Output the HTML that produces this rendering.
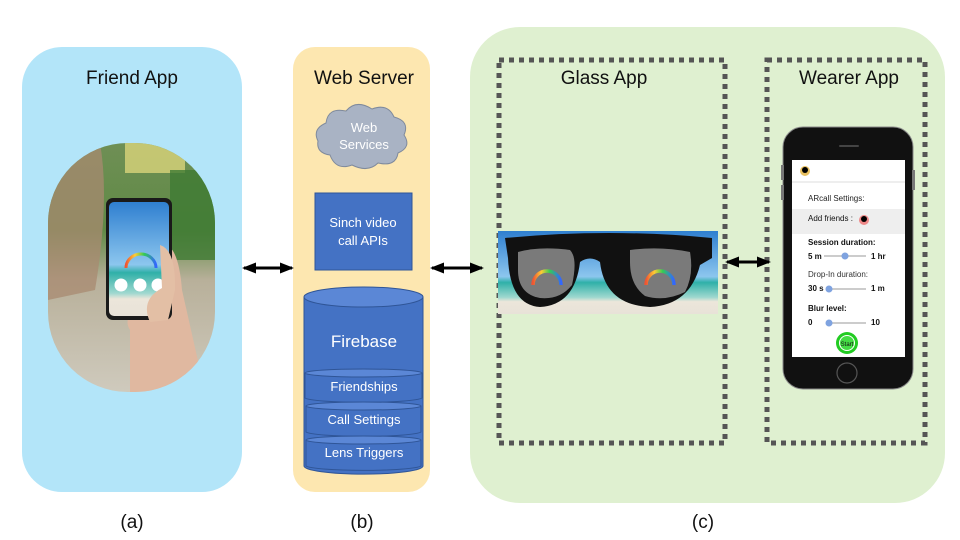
<!DOCTYPE html>
<html><head><meta charset="utf-8"><style>body{margin:0;background:#fff}svg{display:block}text{font-family:"Liberation Sans",sans-serif}</style></head><body>
<svg width="960" height="540" viewBox="0 0 960 540" xmlns="http://www.w3.org/2000/svg">
<defs>
<clipPath id="oval"><rect x="48" y="143" width="167" height="249" rx="80"/></clipPath>
<linearGradient id="ph" x1="0" y1="0" x2="0" y2="1"><stop offset="0" stop-color="#6f8f55"/><stop offset="0.35" stop-color="#5f8a45"/><stop offset="0.55" stop-color="#b8b09a"/><stop offset="1" stop-color="#cfcabd"/></linearGradient>
<linearGradient id="sky" x1="0" y1="0" x2="0" y2="1"><stop offset="0" stop-color="#2f7fd0"/><stop offset="0.55" stop-color="#8cc6ee"/><stop offset="0.62" stop-color="#2fb0a8"/><stop offset="0.8" stop-color="#9fd8cf"/><stop offset="0.85" stop-color="#ece6da"/><stop offset="1" stop-color="#e8e2d8"/></linearGradient>
<linearGradient id="rb" x1="0" y1="0" x2="1" y2="0"><stop offset="0" stop-color="#e53"/><stop offset="0.3" stop-color="#fc3"/><stop offset="0.6" stop-color="#3c5"/><stop offset="1" stop-color="#36f"/></linearGradient>
<marker id="ah" markerUnits="userSpaceOnUse" markerWidth="14" markerHeight="12" refX="12" refY="6" orient="auto-start-reverse"><path d="M0,0.5 L14,6 L0,11.5 z" fill="#000"/></marker>
</defs>
<!-- Friend App -->
<rect x="22" y="47" width="220" height="445" rx="40" fill="#b3e5f9"/>
<text x="132" y="84" font-size="19" text-anchor="middle" fill="#111">Friend App</text>
<g clip-path="url(#oval)">
<rect x="48" y="143" width="167" height="249" fill="url(#ph)"/>
<rect x="125" y="143" width="60" height="30" fill="#d9d47a" opacity="0.8"/>
<rect x="170" y="170" width="45" height="90" fill="#3e7a33" opacity="0.8"/>
<path d="M48,143 L100,143 Q110,200 95,290 L48,300 Z" fill="#a88a70" opacity="0.75"/>
<path d="M48,340 Q60,380 110,392 L48,392 Z" fill="#e8eef0" opacity="0.8"/>
<path d="M160,245 Q178,240 182,290 L205,392 L130,392 L130,330 Q120,315 150,295 Z" fill="#e0b8a0"/>
</g>
<rect x="106" y="198" width="66" height="122" rx="7" fill="#1a1a1a"/>
<rect x="109" y="202" width="60" height="114" rx="5" fill="url(#sky)"/>
<path d="M126,268 a15,14 0 0 1 30,0" fill="none" stroke="url(#rb)" stroke-width="3"/>
<circle cx="121" cy="285" r="6.5" fill="#fff"/><circle cx="140" cy="285" r="6.5" fill="#fff"/><circle cx="158" cy="285" r="6.5" fill="#fff"/>
<path d="M160,245 Q176,250 175,290 L168,320 L150,322 Q140,300 162,288 Z" fill="#e3bfa5"/>
<!-- Web server -->
<rect x="293" y="47" width="137" height="445" rx="22" fill="#fde7b0"/>
<text x="364" y="84" font-size="19" text-anchor="middle" fill="#111">Web Server</text>
<path d="M330,155 q-14,-2 -12,-14 q-6,-12 8,-18 q2,-16 20,-12 q10,-12 26,-2 q16,-6 22,8 q16,4 10,18 q8,12 -6,18 q-2,14 -20,10 q-10,10 -26,2 q-16,6 -22,-10z" fill="#a9b3c4" stroke="#7f8a9c" stroke-width="1"/>
<text x="364" y="132" font-size="13" text-anchor="middle" fill="#fff">Web</text>
<text x="364" y="149" font-size="13" text-anchor="middle" fill="#fff">Services</text>
<rect x="315" y="193" width="97" height="77" fill="#4472c4" stroke="#2f5597"/>
<text x="363" y="227" font-size="13" text-anchor="middle" fill="#fff">Sinch video</text>
<text x="363" y="245" font-size="13" text-anchor="middle" fill="#fff">call APIs</text>
<path d="M304,297 L304,466 A59,8 0 0 0 423,466 L423,297" fill="#4472c4" stroke="#2f5597"/>
<ellipse cx="363.5" cy="297" rx="59.5" ry="10" fill="#5b87d6" stroke="#2f5597"/>
<text x="364" y="347" font-size="17" text-anchor="middle" fill="#fff">Firebase</text>
<g stroke="#2f5597" fill="#4472c4">
<path d="M305,373 L305,398 A59,5 0 0 0 422,398 L422,373"/><ellipse cx="363.5" cy="373" rx="58.5" ry="4" fill="#5b87d6"/>
<path d="M306,406 L306,432 A58,5 0 0 0 421,432 L421,406"/><ellipse cx="363.5" cy="406" rx="57.5" ry="4" fill="#5b87d6"/>
<path d="M306,440 L306,466 A58,5 0 0 0 421,466 L421,440"/><ellipse cx="363.5" cy="440" rx="57.5" ry="4" fill="#5b87d6"/>
</g>
<text x="364" y="391" font-size="13" text-anchor="middle" fill="#fff">Friendships</text>
<text x="364" y="424" font-size="13" text-anchor="middle" fill="#fff">Call Settings</text>
<text x="364" y="457" font-size="13" text-anchor="middle" fill="#fff">Lens Triggers</text>
<!-- Green panel -->
<rect x="470" y="27" width="475" height="476" rx="50" fill="#dff0d0"/>
<rect x="499" y="60" width="226" height="383" fill="none" stroke="#555" stroke-width="5" stroke-dasharray="5,5"/>
<text x="604" y="84" font-size="19" text-anchor="middle" fill="#111">Glass App</text>
<rect x="498" y="231" width="220" height="83" fill="url(#sky)"/>
<path d="M505,238 Q610,228 712,238 L712,258 L700,265 Q690,305 650,307 Q605,305 600,262 Q590,255 580,262 Q575,305 540,307 Q510,305 508,258 Z" fill="#111"/>
<path d="M518,252 Q540,246 570,250 Q578,258 572,285 Q560,300 540,298 Q518,294 518,270Z" fill="#7a7a7a"/>
<path d="M630,250 Q660,246 690,252 Q694,275 685,292 Q665,302 645,296 Q630,285 630,262Z" fill="#7a7a7a"/>
<path d="M533,285 a14,14 0 0 1 28,0" fill="none" stroke="url(#rb)" stroke-width="3.5"/>
<path d="M646,285 a14,14 0 0 1 28,0" fill="none" stroke="url(#rb)" stroke-width="3.5"/>
<rect x="767" y="60" width="158" height="383" fill="none" stroke="#555" stroke-width="5" stroke-dasharray="5,5"/>
<text x="849" y="84" font-size="19" text-anchor="middle" fill="#111">Wearer App</text>
<!-- arrows -->
<line x1="244" y1="268" x2="292" y2="268" stroke="#000" stroke-width="3" marker-start="url(#ah)" marker-end="url(#ah)"/>
<line x1="432" y1="268" x2="482" y2="268" stroke="#000" stroke-width="3" marker-start="url(#ah)" marker-end="url(#ah)"/>
<line x1="727" y1="262" x2="769" y2="262" stroke="#000" stroke-width="3" marker-start="url(#ah)" marker-end="url(#ah)"/>
<!-- phone -->
<rect x="783" y="127" width="130" height="262" rx="20" fill="#111" stroke="#888" stroke-width="1"/>
<rect x="781" y="165" width="3" height="15" fill="#777"/><rect x="781" y="185" width="3" height="15" fill="#777"/><rect x="912" y="170" width="3" height="20" fill="#777"/>
<rect x="839" y="145" width="20" height="2" rx="1" fill="#444"/>
<rect x="792" y="160" width="113" height="197" fill="#fff"/>
<line x1="792" y1="182" x2="905" y2="182" stroke="#ddd"/>
<circle cx="805" cy="171" r="5" fill="#e8c060"/><circle cx="805" cy="170" r="3" fill="#000"/>
<text x="808" y="201" font-size="8" fill="#222">ARcall Settings:</text>
<rect x="792" y="209" width="113" height="25" fill="#eee"/>
<text x="808" y="221" font-size="8" fill="#111">Add friends :</text>
<circle cx="864" cy="220" r="5" fill="#e88"/><circle cx="864" cy="219" r="3" fill="#000"/>
<text x="808" y="245" font-size="8" fill="#111" font-weight="bold">Session duration:</text>
<text x="808" y="259" font-size="8" fill="#111" font-weight="bold">5 m</text>
<line x1="824" y1="256" x2="866" y2="256" stroke="#ccc" stroke-width="2"/><circle cx="845" cy="256" r="3.5" fill="#7fa3e0"/>
<text x="871" y="259" font-size="8" fill="#111" font-weight="bold">1 hr</text>
<text x="808" y="277" font-size="8" fill="#333">Drop-In duration:</text>
<text x="808" y="291" font-size="8" fill="#111" font-weight="bold">30 s</text>
<line x1="828" y1="289" x2="866" y2="289" stroke="#ccc" stroke-width="2"/><circle cx="829" cy="289" r="3.5" fill="#7fa3e0"/>
<text x="871" y="291" font-size="8" fill="#111" font-weight="bold">1 m</text>
<text x="808" y="311" font-size="8" fill="#111" font-weight="bold">Blur level:</text>
<text x="808" y="325" font-size="8" fill="#111" font-weight="bold">0</text>
<line x1="826" y1="323" x2="866" y2="323" stroke="#ccc" stroke-width="2"/><circle cx="829" cy="323" r="3.5" fill="#7fa3e0"/>
<text x="871" y="325" font-size="8" fill="#111" font-weight="bold">10</text>
<circle cx="847" cy="343" r="11" fill="#2c2"/><circle cx="847" cy="343" r="7.5" fill="#4d4" stroke="#fff" stroke-width="1"/>
<text x="847" y="346" font-size="6" text-anchor="middle" fill="#111">Start</text>
<circle cx="847" cy="373" r="10" fill="none" stroke="#555" stroke-width="1.2"/>
<!-- labels -->
<text x="132" y="528" font-size="19" text-anchor="middle" fill="#111">(a)</text>
<text x="362" y="528" font-size="19" text-anchor="middle" fill="#111">(b)</text>
<text x="703" y="528" font-size="19" text-anchor="middle" fill="#111">(c)</text>
</svg>
</body></html>
